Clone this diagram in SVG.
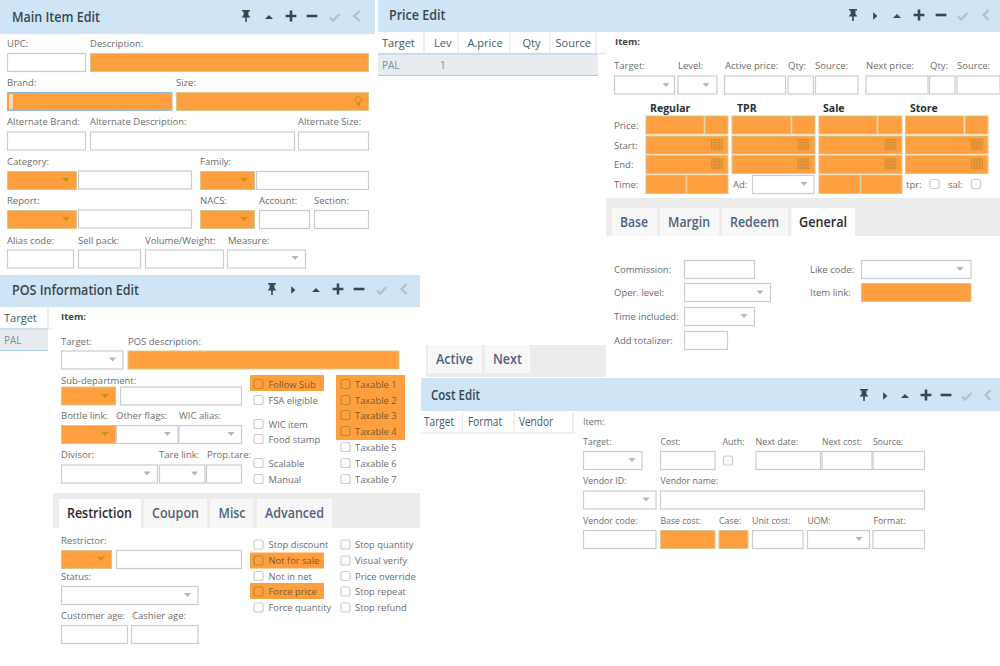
<svg xmlns="http://www.w3.org/2000/svg" width="1000" height="666" viewBox="0 0 1000 666">
<style>
text{font-family:"Open Sans","Noto Sans","Liberation Sans",sans-serif}
.h{fill:#cfe5f6}
.t{font-size:14px;font-weight:600;fill:#37474f}
.l{font-size:9.5px;fill:#6d6d6d}
.b{font-size:9.5px;font-weight:700;fill:#444}
.g{font-size:11px;fill:#455a64}
.g2{font-size:12px;fill:#455a64}
.d{font-size:10px;fill:#78909c}
.c{font-size:10.5px;font-weight:700;fill:#263238}
.k{font-size:9.4px;fill:#6d6d6d}
.ko{font-size:9.4px;fill:#7a5a28}
.i{fill:#fff;stroke:#ccc;stroke-width:1.2}
.o{fill:#ff9f3f;stroke:#d8c88e;stroke-width:1}
.f{fill:#ff9f3f}
.cb{fill:#fff;stroke:#ccc;stroke-width:1.2}
.cbo{fill:none;stroke:#b98f24;stroke-width:1.2}
.tb{fill:#ececec}
.tab{fill:#f8f8f8}
.tn{font-size:14px;font-weight:600;fill:#4f6180}
.ta{font-size:14px;font-weight:600;fill:#2b2b2b}
.sep{stroke:#ececec;stroke-width:1.5;fill:none}
.rl{stroke:#a9cfee;stroke-width:1.2;fill:none}
.row{fill:#e8ecf1}
</style>
<defs>
<path id="ar" d="M-3.5 -2H3.5L0 2Z" fill="#b5b5b5"/>
<path id="aro" d="M-4 -2.200H4L0 2.200Z" fill="#c2960f"/>
<g id="pin" fill="#37474f"><path d="M-4 -6H4V-4.600H2.400V-1L4.400 1.400H-4.400L-2.400 -1V-4.600H-4Z"/><rect x="-.8" y="1" width="1.600" height="5"/></g>
<path id="play" d="M-1.800 -3.800L2.400 0L-1.800 3.800Z" fill="#37474f"/>
<path id="up" d="M-4 2L0 -2L4 2Z" fill="#37474f"/>
<path id="plus" d="M-5.400 -1.300H-1.300V-5.400H1.300V-1.300H5.400V1.300H1.300V5.400H-1.300V1.300H-5.400Z" fill="#37474f"/>
<rect id="minus" x="-5.400" y="-1.300" width="10.800" height="2.600" fill="#37474f"/>
<path id="chk" d="M-5 .5L-2 3.500L4.500 -3" fill="none" stroke="#b4bfc7" stroke-width="2.400"/>
<path id="chv" d="M2.500 -5L-2.500 0L2.500 5" fill="none" stroke="#b4bfc7" stroke-width="2.400"/>
<g id="cal"><rect x="0" y="1" width="11" height="10" fill="#f0993f" stroke="#d2912f" stroke-width=".8"/><path d="M0 4H11M0 6.500H11M0 9H11M3 1V11M5.500 1V11M8 1V11M3 0V2M8 0V2" stroke="#cf8a30" stroke-width=".6" fill="none"/></g>
</defs>

<g id="main-item-edit">
<rect class="h" x="0" y="0" width="375" height="34"/>
<text class="t" x="12" y="22" textLength="88" lengthAdjust="spacingAndGlyphs">Main Item Edit</text>
<use href="#pin" x="246" y="16"/><use href="#up" x="269" y="17"/><use href="#plus" x="291" y="16"/><use href="#minus" x="312" y="16"/><use href="#chk" x="335" y="17"/><use href="#chv" x="357" y="16"/>
<text class="l" x="7" y="47">UPC:</text><text class="l" x="90" y="47">Description:</text>
<rect class="i" x="7.500" y="53.500" width="78" height="18"/><rect class="o" x="90.500" y="53.500" width="278" height="18"/>
<text class="l" x="7" y="86">Brand:</text><text class="l" x="176" y="86">Size:</text>
<rect class="o" x="7.500" y="92.500" width="164.500" height="18" style="stroke:#8fbfe0"/><rect x="9" y="94" width="4" height="15" fill="#ffd9ae"/>
<rect class="o" x="176.500" y="92.500" width="192" height="18"/>
<g fill="#c2960f"><circle cx="358.500" cy="99.500" r="3.200" fill="none" stroke="#c2960f"/><rect x="357" y="103" width="3" height="2.500"/></g>
<text class="l" x="7" y="125">Alternate Brand:</text><text class="l" x="90" y="125">Alternate Description:</text><text class="l" x="298" y="125">Alternate Size:</text>
<rect class="i" x="7.500" y="132" width="78" height="18"/><rect class="i" x="90.500" y="132" width="204" height="18"/><rect class="i" x="298.500" y="132" width="70" height="18"/>
<text class="l" x="7" y="165">Category:</text><text class="l" x="200" y="165">Family:</text>
<rect class="o" x="7.500" y="171.500" width="69" height="18"/><use href="#aro" x="66" y="180"/><rect class="i" x="78.500" y="171" width="113" height="18"/>
<rect class="o" x="200.500" y="171.500" width="54" height="18"/><use href="#aro" x="244" y="180"/><rect class="i" x="256.500" y="171.500" width="112" height="18"/>
<text class="l" x="7" y="204">Report:</text><text class="l" x="200" y="204">NACS:</text><text class="l" x="259" y="204">Account:</text><text class="l" x="314" y="204">Section:</text>
<rect class="o" x="7.500" y="210.500" width="69" height="18"/><use href="#aro" x="66" y="219"/><rect class="i" x="78.500" y="210" width="113" height="18"/>
<rect class="o" x="200.500" y="210.500" width="54" height="18"/><use href="#aro" x="244" y="219"/><rect class="i" x="259.500" y="210.500" width="50" height="18"/><rect class="i" x="314.500" y="210.500" width="54" height="18"/>
<text class="l" x="7" y="244">Alias code:</text><text class="l" x="78" y="244">Sell pack:</text><text class="l" x="145" y="244">Volume/Weight:</text><text class="l" x="228" y="244">Measure:</text>
<rect class="i" x="7.500" y="250" width="66" height="18"/><rect class="i" x="78.500" y="250" width="62" height="18"/><rect class="i" x="145.500" y="250" width="78" height="18"/><rect class="i" x="227.500" y="250" width="78" height="18"/><use href="#ar" x="295" y="258"/>
</g>

<g id="price-edit">
<rect class="h" x="378" y="0" width="622" height="32"/>
<text class="t" x="389" y="20" textLength="56.500" lengthAdjust="spacingAndGlyphs">Price Edit</text>
<use href="#pin" x="853" y="15"/><use href="#play" x="875" y="16"/><use href="#up" x="897" y="16"/><use href="#plus" x="919" y="15"/><use href="#minus" x="941" y="15"/><use href="#chk" x="963" y="16"/><use href="#chv" x="986" y="15"/>
<path class="sep" d="M424 33V53M458 33V53M510 33V53M550 33V53M596 33V53M378 53.500H606"/>
<text class="g" x="382" y="47">Target</text><text class="g" x="434" y="47">Lev</text><text class="g" x="467.500" y="47">A.price</text><text class="g" x="522.500" y="47">Qty</text><text class="g" x="555.500" y="47">Source</text>
<rect class="row" x="378" y="54" width="220" height="21"/><path class="rl" d="M378 54H598M378 75.500H598"/>
<text class="d" x="382" y="69">PAL</text><text class="d" x="440" y="69">1</text>
<text class="b" x="615" y="45">Item:</text>
<text class="l" x="614" y="69">Target:</text><text class="l" x="678" y="69">Level:</text><text class="l" x="725" y="69">Active price:</text><text class="l" x="788" y="69">Qty:</text><text class="l" x="815" y="69">Source:</text><text class="l" x="866" y="69">Next price:</text><text class="l" x="930" y="69">Qty:</text><text class="l" x="957" y="69">Source:</text>
<rect class="i" x="614.500" y="76" width="60" height="18"/><use href="#ar" x="666" y="85"/><rect class="i" x="678" y="76" width="39" height="18"/><use href="#ar" x="706" y="85"/>
<rect class="i" x="724.500" y="76" width="61" height="18"/><rect class="i" x="788" y="76" width="25.500" height="18"/><rect class="i" x="815.500" y="76" width="42.500" height="18"/>
<rect class="i" x="866" y="76" width="62" height="18"/><rect class="i" x="929.500" y="76" width="25.500" height="18"/><rect class="i" x="957" y="76" width="43" height="18"/>
<text class="c" x="650" y="112">Regular</text><text class="c" x="737" y="112">TPR</text><text class="c" x="823" y="112">Sale</text><text class="c" x="910" y="112">Store</text>
<text class="l" x="614" y="129">Price:</text><text class="l" x="614" y="149">Start:</text><text class="l" x="614" y="168">End:</text><text class="l" x="614" y="188">Time:</text>
<g>
<rect class="o" x="646" y="116" width="58" height="18"/><rect class="o" x="705" y="116" width="23" height="18"/>
<rect class="o" x="732" y="116" width="59" height="18"/><rect class="o" x="792" y="116" width="23" height="18"/>
<rect class="o" x="819" y="116" width="58" height="18"/><rect class="o" x="878" y="116" width="24" height="18"/>
<rect class="o" x="905.500" y="116" width="58" height="18"/><rect class="o" x="965" y="116" width="23" height="18"/>
<rect class="o" x="646" y="136" width="82" height="18"/><rect class="o" x="732" y="136" width="83" height="18"/><rect class="o" x="819" y="136" width="83" height="18"/><rect class="o" x="905.500" y="136" width="82.500" height="18"/>
<rect class="o" x="646" y="155.500" width="82" height="18"/><rect class="o" x="732" y="155.500" width="83" height="18"/><rect class="o" x="819" y="155.500" width="83" height="18"/><rect class="o" x="905.500" y="155.500" width="82.500" height="18"/>
<rect class="o" x="646" y="175" width="40" height="18.500"/><rect class="o" x="687" y="175" width="41" height="18.500"/>
<rect class="o" x="819" y="175" width="41" height="18.500"/><rect class="o" x="861" y="175" width="41" height="18.500"/>
</g>
<use href="#cal" x="711.500" y="138.500"/><use href="#cal" x="798" y="138.500"/><use href="#cal" x="885" y="138.500"/><use href="#cal" x="971.500" y="138.500"/>
<use href="#cal" x="711.500" y="158"/><use href="#cal" x="798" y="158"/><use href="#cal" x="885" y="158"/><use href="#cal" x="971.500" y="158"/>
<text class="l" x="733" y="188">Ad:</text><rect class="i" x="752.500" y="175.500" width="61.500" height="18"/><use href="#ar" x="804" y="184"/>
<text class="l" x="906" y="188">tpr:</text><rect class="cb" x="930" y="179.500" width="9" height="9" rx="2"/><text class="l" x="948" y="188">sal:</text><rect class="cb" x="971.500" y="179.500" width="9" height="9" rx="2"/>
<rect class="tb" x="606" y="198" width="394" height="38"/>
<rect class="tab" x="612" y="208" width="45" height="28"/><rect class="tab" x="660" y="208" width="59" height="28"/><rect class="tab" x="722" y="208" width="66" height="28"/><rect x="791.500" y="208" width="63.500" height="28" fill="#fff"/>
<text class="tn" x="620" y="227" textLength="28" lengthAdjust="spacingAndGlyphs">Base</text><text class="tn" x="668" y="227" textLength="42" lengthAdjust="spacingAndGlyphs">Margin</text><text class="tn" x="730" y="227" textLength="49" lengthAdjust="spacingAndGlyphs">Redeem</text><text class="ta" x="799" y="227" textLength="48" lengthAdjust="spacingAndGlyphs">General</text>
<text class="l" x="614" y="273">Commission:</text><rect class="i" x="684.500" y="260.500" width="70" height="18"/>
<text class="l" x="614" y="296">Oper. level:</text><rect class="i" x="684.500" y="283.500" width="86" height="18"/><use href="#ar" x="760" y="292.500"/>
<text class="l" x="614" y="320">Time included:</text><rect class="i" x="684.500" y="307.500" width="70" height="18"/><use href="#ar" x="744" y="316"/>
<text class="l" x="614" y="344">Add totalizer:</text><rect class="i" x="684.500" y="331.500" width="43" height="18"/>
<text class="l" x="810" y="273">Like code:</text><rect class="i" x="861.500" y="260.500" width="109.500" height="18"/><use href="#ar" x="960" y="269"/>
<text class="l" x="810" y="296">Item link:</text><rect class="o" x="861.500" y="283.500" width="109.500" height="18"/>
<rect class="tb" x="426" y="345" width="180" height="32"/>
<rect class="tab" x="428" y="345" width="54" height="28"/><rect class="tab" x="485" y="345" width="45" height="28"/>
<text class="tn" x="436" y="364" textLength="37" lengthAdjust="spacingAndGlyphs">Active</text><text class="tn" x="493" y="364" textLength="29" lengthAdjust="spacingAndGlyphs">Next</text>
</g>

<g id="pos-information-edit">
<rect class="h" x="0" y="275" width="420" height="32"/>
<text class="t" x="12" y="295" textLength="127" lengthAdjust="spacingAndGlyphs">POS Information Edit</text>
<use href="#pin" x="272" y="289"/><use href="#play" x="293" y="290"/><use href="#up" x="316" y="290"/><use href="#plus" x="338" y="289"/><use href="#minus" x="359" y="289"/><use href="#chk" x="382" y="290"/><use href="#chv" x="404" y="289"/>
<path class="sep" d="M48 308V328M0 328.500H53"/>
<text class="g" x="4" y="322">Target</text>
<rect class="row" x="0" y="329" width="48" height="21"/><path class="rl" d="M0 329H48M0 350.500H48"/>
<text class="d" x="4" y="344">PAL</text>
<text class="b" x="61" y="320">Item:</text>
<text class="l" x="61" y="345">Target:</text><text class="l" x="128" y="345">POS description:</text>
<rect class="i" x="61.500" y="351" width="61.500" height="18"/><use href="#ar" x="112.500" y="359.500"/><rect class="o" x="128" y="351" width="271" height="18"/>
<text class="l" x="61" y="384">Sub-department:</text>
<rect class="o" x="61.500" y="387" width="54" height="18"/><use href="#aro" x="105" y="396"/><rect class="i" x="120.500" y="387" width="121" height="18"/>
<text class="l" x="61" y="419">Bottle link:</text><text class="l" x="116" y="419">Other flags:</text><text class="l" x="179" y="419">WIC alias:</text>
<rect class="o" x="61.500" y="425.500" width="54" height="18"/><use href="#aro" x="105" y="434"/><rect class="i" x="116.500" y="425.500" width="61.500" height="18"/><use href="#ar" x="167.500" y="434"/><rect class="i" x="179" y="425.500" width="62.500" height="18"/><use href="#ar" x="231" y="434"/>
<text class="l" x="61" y="458">Divisor:</text><text class="l" x="159" y="458">Tare link:</text><text class="l" x="207" y="458">Prop.tare:</text>
<rect class="i" x="61.500" y="465" width="96" height="18"/><use href="#ar" x="147" y="473.500"/><rect class="i" x="159.500" y="465" width="45.500" height="18"/><use href="#ar" x="194.500" y="473.500"/><rect class="i" x="206.500" y="465" width="35" height="18"/>
<rect class="f" x="250" y="375" width="74" height="16"/><rect class="f" x="336" y="375" width="69" height="65"/>
<rect class="cbo" x="254" y="379.500" width="9" height="9" rx="2"/><text class="ko" x="268.500" y="387.500">Follow Sub</text>
<rect class="cb" x="254" y="395.500" width="9" height="9" rx="2"/><text class="k" x="268.500" y="403.500">FSA eligible</text>
<rect class="cb" x="254" y="419.500" width="9" height="9" rx="2"/><text class="k" x="268.500" y="427.500">WIC item</text>
<rect class="cb" x="254" y="434.500" width="9" height="9" rx="2"/><text class="k" x="268.500" y="442.500">Food stamp</text>
<rect class="cb" x="254" y="458.500" width="9" height="9" rx="2"/><text class="k" x="268.500" y="466.500">Scalable</text>
<rect class="cb" x="254" y="474.500" width="9" height="9" rx="2"/><text class="k" x="268.500" y="482.500">Manual</text>
<rect class="cbo" x="341" y="379.500" width="9" height="9" rx="2"/><text class="ko" x="355" y="387.500">Taxable 1</text>
<rect class="cbo" x="341" y="395.500" width="9" height="9" rx="2"/><text class="ko" x="355" y="403.500">Taxable 2</text>
<rect class="cbo" x="341" y="410.500" width="9" height="9" rx="2"/><text class="ko" x="355" y="418.500">Taxable 3</text>
<rect class="cbo" x="341" y="426.500" width="9" height="9" rx="2"/><text class="ko" x="355" y="434.500">Taxable 4</text>
<rect class="cb" x="341" y="442.500" width="9" height="9" rx="2"/><text class="k" x="355" y="450.500">Taxable 5</text>
<rect class="cb" x="341" y="458.500" width="9" height="9" rx="2"/><text class="k" x="355" y="466.500">Taxable 6</text>
<rect class="cb" x="341" y="474.500" width="9" height="9" rx="2"/><text class="k" x="355" y="482.500">Taxable 7</text>
<rect class="tb" x="53" y="493" width="367" height="35"/>
<rect x="59" y="499" width="82" height="29" fill="#fff"/><rect class="tab" x="144" y="499" width="63" height="29"/><rect class="tab" x="210" y="499" width="43" height="29"/><rect class="tab" x="257" y="499" width="75" height="29"/>
<text class="ta" x="67" y="518" textLength="65" lengthAdjust="spacingAndGlyphs">Restriction</text><text class="tn" x="152" y="518" textLength="47" lengthAdjust="spacingAndGlyphs">Coupon</text><text class="tn" x="218.500" y="518" textLength="27" lengthAdjust="spacingAndGlyphs">Misc</text><text class="tn" x="265" y="518" textLength="59" lengthAdjust="spacingAndGlyphs">Advanced</text>
<text class="l" x="61" y="544">Restrictor:</text>
<rect class="o" x="61.500" y="550.500" width="50" height="18"/><use href="#aro" x="101" y="559"/><rect class="i" x="116.500" y="550.500" width="125" height="18"/>
<text class="l" x="61" y="580">Status:</text><rect class="i" x="61.500" y="586.500" width="136.500" height="18"/><use href="#ar" x="187.500" y="595"/>
<text class="l" x="61" y="619">Customer age:</text><text class="l" x="132" y="619">Cashier age:</text>
<rect class="i" x="61.500" y="625.500" width="66" height="18"/><rect class="i" x="131.500" y="625.500" width="66.500" height="18"/>
<rect class="f" x="250" y="552.500" width="74" height="16"/><rect class="f" x="250" y="583" width="74" height="16"/>
<rect class="cb" x="254" y="540" width="9" height="9" rx="2"/><text class="k" x="268.500" y="548">Stop discount</text>
<rect class="cbo" x="254" y="556" width="9" height="9" rx="2"/><text class="ko" x="268.500" y="564">Not for sale</text>
<rect class="cb" x="254" y="571.500" width="9" height="9" rx="2"/><text class="k" x="268.500" y="579.500">Not in net</text>
<rect class="cbo" x="254" y="587" width="9" height="9" rx="2"/><text class="ko" x="268.500" y="595">Force price</text>
<rect class="cb" x="254" y="603" width="9" height="9" rx="2"/><text class="k" x="268.500" y="611">Force quantity</text>
<rect class="cb" x="341" y="540" width="9" height="9" rx="2"/><text class="k" x="355" y="548">Stop quantity</text>
<rect class="cb" x="341" y="556" width="9" height="9" rx="2"/><text class="k" x="355" y="564">Visual verify</text>
<rect class="cb" x="341" y="571.500" width="9" height="9" rx="2"/><text class="k" x="355" y="579.500">Price override</text>
<rect class="cb" x="341" y="587" width="9" height="9" rx="2"/><text class="k" x="355" y="595">Stop repeat</text>
<rect class="cb" x="341" y="603" width="9" height="9" rx="2"/><text class="k" x="355" y="611">Stop refund</text>
</g>

<g id="cost-edit">
<rect class="h" x="421" y="378" width="579" height="33"/>
<text class="t" x="431" y="400" textLength="49" lengthAdjust="spacingAndGlyphs">Cost Edit</text>
<use href="#pin" x="864" y="395"/><use href="#play" x="885" y="396"/><use href="#up" x="905" y="396"/><use href="#plus" x="926" y="395"/><use href="#minus" x="946" y="395"/><use href="#chk" x="967" y="396"/><use href="#chv" x="988" y="395"/>
<path class="sep" d="M462.500 412V432M514 412V432M573 412V432M421 433H575"/>
<text class="g2" x="424" y="426" textLength="30" lengthAdjust="spacingAndGlyphs">Target</text><text class="g2" x="468" y="426" textLength="34" lengthAdjust="spacingAndGlyphs">Format</text><text class="g2" x="519" y="426" textLength="34" lengthAdjust="spacingAndGlyphs">Vendor</text>
<text class="l" x="583" y="425" textLength="21.500" lengthAdjust="spacingAndGlyphs">Item:</text>
<text class="l" x="583" y="445" textLength="28.500" lengthAdjust="spacingAndGlyphs">Target:</text><text class="l" x="660.500" y="445" textLength="20" lengthAdjust="spacingAndGlyphs">Cost:</text><text class="l" x="722.500" y="445" textLength="22" lengthAdjust="spacingAndGlyphs">Auth:</text><text class="l" x="755.500" y="445" textLength="42.500" lengthAdjust="spacingAndGlyphs">Next date:</text><text class="l" x="822" y="445" textLength="40" lengthAdjust="spacingAndGlyphs">Next cost:</text><text class="l" x="873" y="445" textLength="30" lengthAdjust="spacingAndGlyphs">Source:</text>
<rect class="i" x="583.500" y="451.500" width="58.500" height="18"/><use href="#ar" x="632" y="460"/><rect class="i" x="660.500" y="451.500" width="54.500" height="18"/><rect class="cb" x="723.500" y="456" width="9" height="9" rx="2"/><rect class="i" x="756" y="451.500" width="64.500" height="18"/><rect class="i" x="822" y="451.500" width="50" height="18"/><rect class="i" x="873" y="451.500" width="51.500" height="18"/>
<text class="l" x="583" y="484" textLength="43.500" lengthAdjust="spacingAndGlyphs">Vendor ID:</text><text class="l" x="660.500" y="484" textLength="57.500" lengthAdjust="spacingAndGlyphs">Vendor name:</text>
<rect class="i" x="583.500" y="491" width="72.500" height="18"/><use href="#ar" x="646" y="499.500"/><rect class="i" x="660.500" y="491" width="264" height="18"/>
<text class="l" x="583" y="524" textLength="54.500" lengthAdjust="spacingAndGlyphs">Vendor code:</text><text class="l" x="660.500" y="524" textLength="40.500" lengthAdjust="spacingAndGlyphs">Base cost:</text><text class="l" x="719" y="524" textLength="22" lengthAdjust="spacingAndGlyphs">Case:</text><text class="l" x="752" y="524" textLength="38.500" lengthAdjust="spacingAndGlyphs">Unit cost:</text><text class="l" x="807.500" y="524" textLength="23" lengthAdjust="spacingAndGlyphs">UOM:</text><text class="l" x="873.500" y="524" textLength="32" lengthAdjust="spacingAndGlyphs">Format:</text>
<rect class="i" x="583.500" y="530.500" width="72.500" height="18"/><rect class="o" x="660.500" y="530.500" width="54.500" height="18"/><rect class="o" x="719" y="530.500" width="29" height="18"/><rect class="i" x="752.500" y="530.500" width="50.500" height="18"/><rect class="i" x="807.500" y="530.500" width="62" height="18"/><use href="#ar" x="859" y="539"/><rect class="i" x="873" y="530.500" width="51.500" height="18"/>
</g>
</svg>
